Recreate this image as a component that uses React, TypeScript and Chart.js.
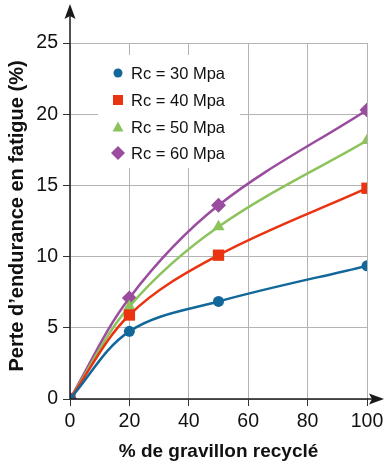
import React, { useEffect, useRef } from "react";
import { Chart, registerables } from "chart.js";

Chart.register(...registerables);

const xValues = [0, 20, 50, 100];
const seriesLabels = ["Rc = 30 Mpa", "Rc = 40 Mpa", "Rc = 50 Mpa", "Rc = 60 Mpa"];
const rc30 = [0, 4.75, 6.85, 9.35];
const rc40 = [0, 5.9, 10.1, 14.8];
const rc50 = [0, 6.5, 12.1, 18.15];
const rc60 = [0, 7.1, 13.6, 20.3];
const seriesColors = ["#13689a", "#ea3311", "#8cc35c", "#9a4c9e"];
const seriesMarkers = ["circle", "rect", "triangle", "rectRot"];
const markerRadius = [5.5, 8, 7, 7.5];
const xTicks = [0, 20, 40, 60, 80, 100];
const yTicks = [0, 5, 10, 15, 20, 25];
const xTitle = "% de gravillon recyclé";
const yTitle = "Perte d\u2019endurance en fatigue (%)";

const FONT = "'Liberation Sans', Arial, sans-serif";

const arrowsPlugin = {
  id: "arrows",
  afterDraw(chart: any) {
    const { ctx, chartArea } = chart;
    const x0 = chartArea.left;
    const y0 = chartArea.bottom;
    ctx.save();
    ctx.strokeStyle = "#1a1a1a";
    ctx.fillStyle = "#1a1a1a";
    ctx.lineWidth = 1.5;
    // y axis
    ctx.beginPath();
    ctx.moveTo(x0, y0);
    ctx.lineTo(x0, 14);
    ctx.stroke();
    ctx.beginPath();
    ctx.moveTo(x0, 4);
    ctx.lineTo(x0 - 5.5, 19);
    ctx.lineTo(x0, 16);
    ctx.lineTo(x0 + 5.5, 19);
    ctx.closePath();
    ctx.fill();
    // x axis
    ctx.beginPath();
    ctx.moveTo(x0, y0);
    ctx.lineTo(375, y0);
    ctx.stroke();
    ctx.beginPath();
    ctx.moveTo(384, y0);
    ctx.lineTo(369, y0 - 5.5);
    ctx.lineTo(372, y0);
    ctx.lineTo(369, y0 + 5.5);
    ctx.closePath();
    ctx.fill();

    // y title
    ctx.save();
    ctx.translate(17, 216);
    ctx.rotate(-Math.PI / 2);
    ctx.font = "bold 20px " + FONT;
    ctx.fillStyle = "#111";
    ctx.textAlign = "center";
    ctx.textBaseline = "middle";
    ctx.fillText(yTitle, 0, 0);
    ctx.restore();

    // legend
    ctx.fillStyle = "#ffffff";
    ctx.fillRect(98, 55, 142, 113);
    const rows = [73, 100, 127, 153];
    ctx.font = "16.5px " + FONT;
    ctx.textBaseline = "middle";
    ctx.textAlign = "left";
    chart.data.datasets.forEach((ds: any, i: number) => {
      const y = rows[i];
      const cx = 118;
      ctx.fillStyle = ds.backgroundColor;
      ctx.beginPath();
      if (i === 0) {
        ctx.arc(cx, y, 4.5, 0, Math.PI * 2);
        ctx.fill();
      } else if (i === 1) {
        ctx.fillRect(cx - 5, y - 5, 10, 10);
      } else if (i === 2) {
        ctx.moveTo(cx, y - 5.5);
        ctx.lineTo(cx + 5.5, y + 4.5);
        ctx.lineTo(cx - 5.5, y + 4.5);
        ctx.closePath();
        ctx.fill();
      } else {
        ctx.moveTo(cx, y - 7);
        ctx.lineTo(cx + 7, y);
        ctx.lineTo(cx, y + 7);
        ctx.lineTo(cx - 7, y);
        ctx.closePath();
        ctx.fill();
      }
      ctx.fillStyle = "#111";
      ctx.fillText(ds.label, 131, y + 1);
    });
    ctx.restore();
  },
};

export default function App() {
  const ref = useRef<HTMLCanvasElement>(null);
  useEffect(() => {
    document.body.style.margin = "0";
    const seriesData = [rc30, rc40, rc50, rc60];
    const chart = new Chart(ref.current!, {
      type: "line",
      data: {
        datasets: seriesData.map((vals, i) => ({
          label: seriesLabels[i],
          data: vals.map((v, j) => ({ x: xValues[j], y: v })),
          borderColor: seriesColors[i],
          backgroundColor: seriesColors[i],
          pointStyle: seriesMarkers[i] as any,
          pointRadius: markerRadius[i],
          pointBorderWidth: 0,
          borderWidth: 2.5,
          tension: 0.35,
          fill: false,
        })),
      },
      options: {
        animation: false,
        responsive: false,
        layout: { padding: { top: 43, right: 18, left: 0, bottom: 0 } },
        plugins: { legend: { display: false }, tooltip: { enabled: false } },
        scales: {
          x: {
            type: "linear",
            min: 0,
            max: 100,
            afterBuildTicks: (s: any) => {
              s.ticks = xTicks.map((v) => ({ value: v }));
            },
            afterFit: (s: any) => {
              s.height = 68;
              s.paddingLeft = 0;
              s.paddingRight = 0;
            },
            grid: { color: "#b3b3b3", lineWidth: 1, tickLength: 7, tickColor: "#333" },
            border: { display: false },
            ticks: { color: "#111", font: { family: FONT, size: 19.5 }, padding: 4, maxRotation: 0 },
            title: {
              display: true,
              text: xTitle,
              color: "#111",
              font: { family: FONT, size: 19, weight: "bold" },
              padding: { top: 4, bottom: 4 },
            },
          },
          y: {
            type: "linear",
            min: 0,
            max: 25,
            afterBuildTicks: (s: any) => {
              s.ticks = yTicks.map((v) => ({ value: v }));
            },
            afterFit: (s: any) => {
              s.width = 70;
              s.paddingTop = 0;
              s.paddingBottom = 0;
            },
            grid: { color: "#b3b3b3", lineWidth: 1, tickLength: 7, tickColor: "#333" },
            border: { display: false },
            ticks: { color: "#111", font: { family: FONT, size: 19.5 }, padding: 5 },
            title: { display: false },
          },
        },
      },
      plugins: [arrowsPlugin],
    });
    return () => chart.destroy();
  }, []);
  return (
    <div style={{ position: "absolute", left: 0, top: 0, width: 385, height: 467, background: "#fff" }}>
      <canvas ref={ref} width={385} height={467} />
    </div>
  );
}
